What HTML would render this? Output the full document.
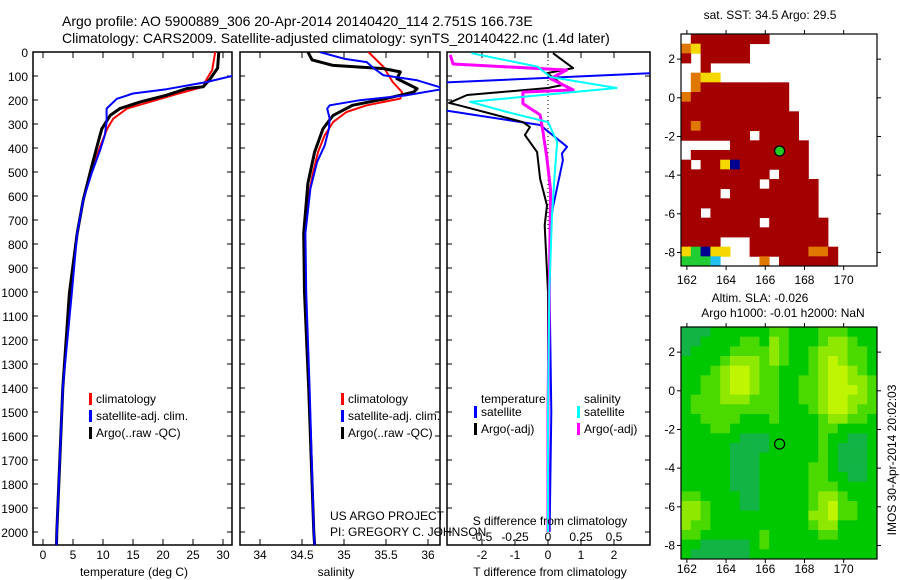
<!DOCTYPE html>
<html><head><meta charset="utf-8"><style>
body{margin:0;background:#fff;}
svg{display:block;font-family:"Liberation Sans",sans-serif;}
text{fill:#000;}
</style></head><body>
<svg id="fig" width="900" height="580" viewBox="0 0 900 580" xmlns="http://www.w3.org/2000/svg">
<defs>
<clipPath id="c1"><rect x="33" y="52" width="199" height="493"/></clipPath>
<clipPath id="c2"><rect x="240" y="52" width="200" height="493"/></clipPath>
<clipPath id="c3"><rect x="447" y="52" width="203" height="493"/></clipPath>
</defs>
<text x="62" y="26" font-size="14">Argo profile: AO 5900889_306 20-Apr-2014 20140420_114 2.751S 166.73E</text>
<text x="62" y="43" font-size="14">Climatology: CARS2009. Satellite-adjusted climatology: synTS_20140422.nc (1.4d later)</text>
<g id="g1"></g>
<g id="g2"></g>
<g id="g3"></g>
<g id="m1"></g>
<g id="m2"></g>
<text x="770" y="19" font-size="12" text-anchor="middle">sat. SST: 34.5 Argo: 29.5</text>
<text x="760" y="302" font-size="12" text-anchor="middle">Altim. SLA: -0.026</text>
<text x="783" y="317" font-size="12" text-anchor="middle">Argo h1000: -0.01 h2000: NaN</text>
<text x="0" y="0" font-size="12" text-anchor="middle" transform="translate(896,460) rotate(-90)">IMOS 30-Apr-2014 20:02:03</text>
<text x="330" y="520" font-size="12">US ARGO PROJECT</text>
<text x="330" y="536" font-size="12">PI: GREGORY C. JOHNSON</text>
</svg>
<script>
// ---------- data ----------
const depthTicks=[0,100,200,300,400,500,600,700,800,900,1000,1100,1200,1300,1400,1500,1600,1700,1800,1900,2000];
const tempTicks=[0,5,10,15,20,25,30];
const salTicks=[34,34.5,35,35.5,36];
const tdTicks=[-2,-1,0,1,2];
const sdTicks=[-0.5,-0.25,0,0.25,0.5];
const sdTickLabels=["-0.5","-0.25","0","0.25","0.5"];

const tClimDepth=[0,75,125,145,175,208,236,278,320,395,478,617,755,895,1005,1400,2000,2054];
const tClimVal=[28.7,28.2,27,26.7,22.3,17.8,14,11.7,10.7,9.5,8.4,6.7,5.7,5,4.5,3.3,2.3,2.25];
const tArgoDepth=[0,67,114,145,152,180,208,236,264,320,375,478,617,755,1005,1400,2000,2054];
const tArgoVal=[29.3,29.1,27.8,26.7,24,20.6,16.2,12.8,11.2,9.8,9.2,8.1,6.7,5.7,4.4,3.3,2.3,2.25];
const tSatDepth=[0,100,125,155,173,195,236,292,347,410,506,617,755,1005,1400,2000,2054];
const tSatVal=[33,31.5,27.3,20.6,15,12.3,10.6,10.6,10.3,9.5,8.1,6.7,5.7,4.8,3.3,2.3,2.25];

const sClimDepth=[0,62,125,167,194,222,250,292,347,417,505,617,755,1000,1400,2000,2054];
const sClimVal=[35.29,35.47,35.58,35.69,35.67,35.27,35.03,34.87,34.77,34.69,34.63,34.57,34.52,34.53,34.58,34.64,34.65];
const sArgoDepth=[0,33,56,69,83,111,153,167,194,222,264,320,417,547,755,1000,1400,2000,2054];
const sArgoVal=[34.57,34.62,34.87,35.47,35.67,35.63,35.87,35.83,35.5,35.1,34.87,34.75,34.65,34.57,34.52,34.53,34.58,34.64,34.65];
const sSatDepth=[0,28,42,69,97,118,153,180,201,222,236,278,320,389,458,569,755,1000,1400,2000,2054];
const sSatVal=[34.71,35.0,35.27,35.36,35.47,35.87,36.2,35.75,35.19,34.83,34.8,34.83,34.82,34.77,34.68,34.6,34.54,34.55,34.59,34.64,34.65];

const dTSatDepth=[0,88,129,240,246,304,395,423,451,549,646,729,1000,1500,2000];
const dTSatVal=[4,3.2,-3.5,-3.5,-3,-0.24,0.58,0.42,0.45,0.3,0.15,0.06,0.05,0.1,0.05];
const dTArgoDepth=[5,67,88,137,150,179,212,222,292,313,346,417,528,639,722,1000,1500,2000];
const dTArgoVal=[0.15,0.76,-0.03,0.45,0,-2.45,-3,-2.7,-0.76,-0.55,-0.7,-0.33,-0.24,-0.03,-0.1,0,0,0];
const dSSatDepth=[5,61,104,150,208,250,292,375,514,680,1000,1500,2000];
const dSSatVal=[-0.58,-0.08,0.02,0.52,-0.59,-0.31,0,0.07,0.05,0.03,0.01,0,0];
const dSArgoDepth=[12,50,75,111,158,167,215,262,325,436,576,1000,1500,2000];
const dSArgoVal=[-0.74,-0.72,0.14,0.02,0.19,-0.19,-0.19,-0.06,-0.04,-0.01,0.02,0.01,0,0];

const lonTicks=[162,164,166,168,170];
const latTicks=[2,0,-2,-4,-6,-8];
const argoLon=166.73, argoLat=-2.751;
const sstGrid=[
"WRRRRRRRRWWWWWWWWWWW",
"OYRRRRRWWWWWWWWWWWWW",
"RWRRRRRWWWWWWWWWWWWW",
"WWRWWWWWWWWWWWWWWWWW",
"WOYYWWWWWWWWWWWWWWWW",
"WORRRRRRRRRWWWWWWWWW",
"ORRRRRRRRRRWWWWWWWWW",
"RRRRRRRRRRRWWWWWWWWW",
"RRRRRRRRRRRRWWWWWWWW",
"RORRRRRRRRRRWWWWWWWW",
"RRRRRRRWRRRRWWWWWWWW",
"WWWWWRRRRRRRRWWWWWWW",
"WRRRRRRRRRRRRWWWWWWW",
"RWRRYBRRRRRRRWWWWWWW",
"RRRRRRRRRWRRRWWWWWWW",
"RRRRRRRRWRRRRRWWWWWW",
"RRRRWRRRRRRRRRWWWWWW",
"RRRRRRRRRRRRRRWWWWWW",
"RRWRRRRRRRRRRRWWWWWW",
"RRRRRRRRWRRRRRRWWWWW",
"RRRRRRRRRRRRRRRWWWWW",
"RRRRWWWRRRRRRRRWWWWW",
"YGBYYWWRRRRRROORWWWW",
"GGGCWWWWOWRRRRRRWWWW"];
const slaGrid=[
"00011111122111222111",
"00111122132111233211",
"01111222232112333221",
"11112333232112343221",
"11123443221112344321",
"11223443221122344332",
"11223443221122344432",
"12223332221122344332",
"12222222221112344322",
"11222211121111233221",
"11122111111111221111",
"11111100011111211001",
"11111000011111210001",
"11111000111111210001",
"11111000111112210001",
"11111000111112211001",
"11111000111112221111",
"22111100111112332111",
"33211100111112342211",
"33211111111113342211",
"32211111111112331111",
"22111111211111221111",
"11000001211111111111",
"10000001111111111111"];

// ---------- helpers ----------
const NS="http://www.w3.org/2000/svg";
function mk(tag,parent,attrs){const e=document.createElementNS(NS,tag);for(const k in attrs)e.setAttribute(k,attrs[k]);parent.appendChild(e);return e;}
const Y=d=>52+d*0.24;
const xT=v=>43+v*6;
const xS=v=>260+(v-34)*84;
const xTD=v=>548+v*33;
const xSD=v=>548+v*132;

function frame(g,x0,x1,name){
  const r=mk('rect',g,{x:x0,y:52,width:x1-x0,height:493,fill:'none',stroke:'#000','stroke-width':1.5});
  
  
  depthTicks.forEach(d=>{
    mk('line',g,{x1:x0,x2:x0+5,y1:Y(d),y2:Y(d),stroke:'#000'});
    mk('line',g,{x1:x1-5,x2:x1,y1:Y(d),y2:Y(d),stroke:'#000'});
  });
}
function xticks(g,vals,fx,labels,name){
  vals.forEach((v,i)=>{
    const x=fx(v);
    mk('line',g,{x1:x,x2:x,y1:545,y2:539,stroke:'#000'});
    mk('line',g,{x1:x,x2:x,y1:52,y2:58,stroke:'#000'});
    const t=mk('text',g,{x:x,y:559,'font-size':12,'text-anchor':'middle'});
    t.textContent=labels?labels[i]:String(v);
    
    
  });
}
function line(g,depths,vals,fx,color,w,clip,name){
  const pts=depths.map((d,i)=>fx(vals[i]).toFixed(1)+','+Y(d).toFixed(1)).join(' ');
  const p=mk('polyline',g,{points:pts,fill:'none',stroke:color,'stroke-width':w,'clip-path':'url(#'+clip+')','stroke-linejoin':'round'});
  
  
}
function legend(g,x,y,color,label,name){
  const b=mk('rect',g,{x:x,y:y-10,width:3,height:12,fill:color});
  
  
  const t=mk('text',g,{x:x+7,y:y,'font-size':12});
  t.textContent=label;
  
  
}
function txt(g,x,y,s,anchor,name){
  const t=mk('text',g,{x:x,y:y,'font-size':12,'text-anchor':anchor});
  t.textContent=s;
  
  
}

// ---------- panel 1 ----------
const g1=document.getElementById('g1');
frame(g1,33,232,'temperature-plot-frame');
depthTicks.forEach(d=>txt(g1,28,Y(d)+5,String(d),'end','depth-tick-label'));
xticks(g1,tempTicks,xT,null,'temperature-tick-label');
line(g1,tClimDepth,tClimVal,xT,'#f00',2,'c1','temp-climatology-line');
line(g1,tArgoDepth,tArgoVal,xT,'#000',3,'c1','temp-argo-line');
line(g1,tSatDepth,tSatVal,xT,'#00f',2,'c1','temp-satellite-line');
txt(g1,134,576,'temperature (deg C)','middle','temperature-axis-title');
legend(g1,89,403,'#f00','climatology','legend-temp-climatology');
legend(g1,89,420,'#00f','satellite-adj. clim.','legend-temp-satellite');
legend(g1,89,437,'#000','Argo(..raw -QC)','legend-temp-argo');

// ---------- panel 2 ----------
const g2=document.getElementById('g2');
frame(g2,240,440,'salinity-plot-frame');
xticks(g2,salTicks,xS,null,'salinity-tick-label');
line(g2,sClimDepth,sClimVal,xS,'#f00',2,'c2','sal-climatology-line');
line(g2,sArgoDepth,sArgoVal,xS,'#000',3,'c2','sal-argo-line');
line(g2,sSatDepth,sSatVal,xS,'#00f',2,'c2','sal-satellite-line');
txt(g2,336,576,'salinity','middle','salinity-axis-title');
legend(g2,341,403,'#f00','climatology','legend-sal-climatology');
legend(g2,341,420,'#00f','satellite-adj. clim.','legend-sal-satellite');
legend(g2,341,437,'#000','Argo(..raw -QC)','legend-sal-argo');

// ---------- panel 3 ----------
const g3=document.getElementById('g3');
frame(g3,447,650,'difference-plot-frame');
xticks(g3,tdTicks,xTD,null,'t-diff-tick-label');
sdTicks.forEach((v,i)=>txt(g3,xSD(v),541,sdTickLabels[i],'middle','s-diff-tick-label'));
mk('line',g3,{x1:548,x2:548,y1:52,y2:230,stroke:'#000','stroke-dasharray':'1,3'});
line(g3,dTSatDepth,dTSatVal,xTD,'#00f',2,'c3','tdiff-satellite-line');
line(g3,dTArgoDepth,dTArgoVal,xTD,'#000',2,'c3','tdiff-argo-line');
line(g3,dSArgoDepth,dSArgoVal,xSD,'#f0f',3,'c3','sdiff-argo-line');
line(g3,dSSatDepth,dSSatVal,xSD,'#0ff',2,'c3','sdiff-satellite-line');
txt(g3,550,525,'S difference from climatology','middle','s-diff-axis-title');
txt(g3,550,576,'T difference from climatology','middle','t-diff-axis-title');
txt(g3,481,403,'temperature','start','legend-temperature-header');
txt(g3,584,403,'salinity','start','legend-salinity-header');
legend(g3,474,416,'#00f','satellite','legend-tdiff-satellite');
legend(g3,474,433,'#000','Argo(-adj)','legend-tdiff-argo');
legend(g3,577,416,'#0ff','satellite','legend-sdiff-satellite');
legend(g3,577,433,'#f0f','Argo(-adj)','legend-sdiff-argo');

// ---------- maps ----------
const LON0=161.7,LON1=171.7,LAT0=3.3,LAT1=-8.7;
function mapAxes(g,top,bot,labelY,name){
  const mx=v=>681+(v-LON0)*(877-681)/(LON1-LON0);
  const my=v=>top+(LAT0-v)*(bot-top)/(LAT0-LAT1);
  return {mx,my};
}
const sstColors={R:'#a50000',O:'#e07800',Y:'#f5d800',G:'#22cc33',B:'#000090',C:'#20c0f0'};
const slaColors=['#12b545','#00c800','#4ada00','#8ee800','#bff500'];
function drawMap(gid,grid,colorOf,top,bot,labelY,pre){
  const g=document.getElementById(gid);
  const {mx,my}=mapAxes(g,top,bot);
  const cw=(877-681)/20, ch=(bot-top)/24;
  grid.forEach((row,j)=>{
    for(let i=0;i<row.length;i++){
      const c=colorOf(row[i]);
      if(!c) continue;
      const lon=LON0+i*0.5, lat=LAT0-j*0.5;
      const r=mk('rect',g,{x:mx(lon).toFixed(2),y:my(lat).toFixed(2),width:(cw+0.4).toFixed(2),height:(ch+0.4).toFixed(2),fill:c});
      
      
    }
  });
  const f=mk('rect',g,{x:681,y:top,width:196,height:bot-top,fill:'none',stroke:'#000','stroke-width':1.2});
  
  
  lonTicks.forEach(v=>{
    const x=mx(v);
    mk('line',g,{x1:x,x2:x,y1:bot,y2:bot+4,stroke:'#000'});
    mk('line',g,{x1:x,x2:x,y1:top,y2:top-4,stroke:'#000'});
    txt(g,x,labelY,String(v),'middle',pre+'-lon-label');
  });
  latTicks.forEach(v=>{
    const y=my(v);
    mk('line',g,{x1:677,x2:681,y1:y,y2:y,stroke:'#000'});
    mk('line',g,{x1:877,x2:881,y1:y,y2:y,stroke:'#000'});
    txt(g,675,y+4,String(v),'end',pre+'-lat-label');
  });
  return {g,mx,my};
}
const M1=drawMap('m1',sstGrid,ch=>sstColors[ch]||null,34,266,284,'sst-map');
const d1=mk('circle',M1.g,{cx:M1.mx(argoLon),cy:M1.my(argoLat),r:5,fill:'#22cc22',stroke:'#000','stroke-width':1.2});


const M2=drawMap('m2',slaGrid,ch=>slaColors[+ch],327,559,573,'sla-map');
const d2=mk('circle',M2.g,{cx:M2.mx(argoLon),cy:M2.my(argoLat),r:5,fill:'none',stroke:'#000','stroke-width':1.2});


</script>
</body></html>
